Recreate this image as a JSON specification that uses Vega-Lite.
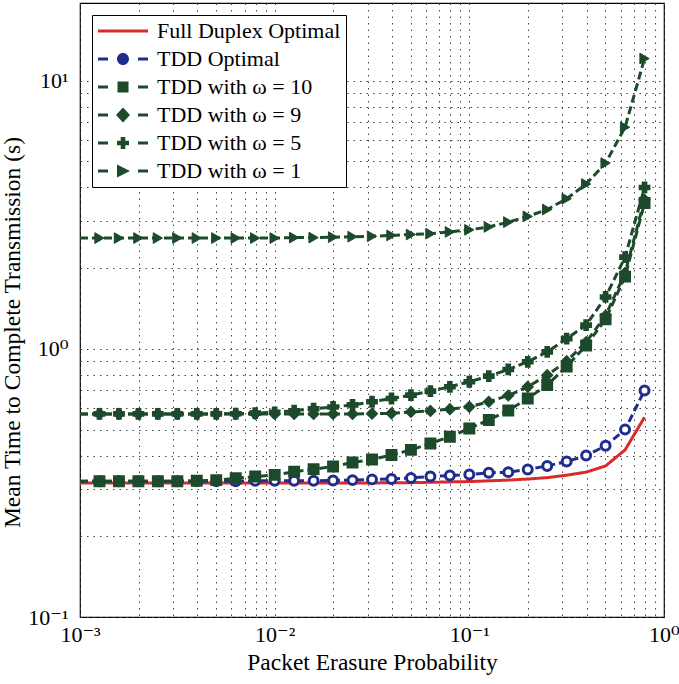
{
  "$schema": "https://vega.github.io/schema/vega-lite/v6.json",
  "width": 584,
  "height": 614,
  "autosize": {"type": "none"},
  "padding": {"left": 80, "top": 3, "right": 15, "bottom": 67},
  "background": "white",
  "config": {
    "view": {"stroke": "black", "strokeWidth": 1.2},
    "font": "Liberation Serif",
    "axis": {
      "labelFont": "Liberation Serif, DejaVu Serif, serif",
      "titleFont": "Liberation Serif",
      "labelFontSize": 22,
      "titleFontSize": 23.5,
      "titleFontWeight": "normal",
      "labelColor": "black",
      "titleColor": "black",
      "grid": true,
      "gridDash": [1.5, 5],
      "gridColor": "#444444",
      "gridWidth": 1,
      "ticks": false,
      "domain": false,
      "labelOverlap": false,
      "labelFlush": false
    }
  },
  "data": {
    "values": [
      {"p": 0.001, "t": 0.316, "s": "Full Duplex Optimal"},
      {"p": 0.0012589, "t": 0.316, "s": "Full Duplex Optimal"},
      {"p": 0.0015849, "t": 0.316, "s": "Full Duplex Optimal"},
      {"p": 0.0019953, "t": 0.316, "s": "Full Duplex Optimal"},
      {"p": 0.0025119, "t": 0.316, "s": "Full Duplex Optimal"},
      {"p": 0.0031623, "t": 0.316, "s": "Full Duplex Optimal"},
      {"p": 0.0039811, "t": 0.316, "s": "Full Duplex Optimal"},
      {"p": 0.0050119, "t": 0.316, "s": "Full Duplex Optimal"},
      {"p": 0.0063096, "t": 0.316, "s": "Full Duplex Optimal"},
      {"p": 0.0079433, "t": 0.316, "s": "Full Duplex Optimal"},
      {"p": 0.01, "t": 0.316, "s": "Full Duplex Optimal"},
      {"p": 0.012589, "t": 0.316, "s": "Full Duplex Optimal"},
      {"p": 0.015849, "t": 0.316, "s": "Full Duplex Optimal"},
      {"p": 0.019953, "t": 0.316, "s": "Full Duplex Optimal"},
      {"p": 0.025119, "t": 0.316, "s": "Full Duplex Optimal"},
      {"p": 0.031623, "t": 0.316, "s": "Full Duplex Optimal"},
      {"p": 0.039811, "t": 0.317, "s": "Full Duplex Optimal"},
      {"p": 0.050119, "t": 0.317, "s": "Full Duplex Optimal"},
      {"p": 0.063096, "t": 0.318, "s": "Full Duplex Optimal"},
      {"p": 0.079433, "t": 0.319, "s": "Full Duplex Optimal"},
      {"p": 0.1, "t": 0.320, "s": "Full Duplex Optimal"},
      {"p": 0.12589, "t": 0.322, "s": "Full Duplex Optimal"},
      {"p": 0.15849, "t": 0.324, "s": "Full Duplex Optimal"},
      {"p": 0.19953, "t": 0.327, "s": "Full Duplex Optimal"},
      {"p": 0.25119, "t": 0.331, "s": "Full Duplex Optimal"},
      {"p": 0.31623, "t": 0.338, "s": "Full Duplex Optimal"},
      {"p": 0.39811, "t": 0.347, "s": "Full Duplex Optimal"},
      {"p": 0.50119, "t": 0.366, "s": "Full Duplex Optimal"},
      {"p": 0.63096, "t": 0.42, "s": "Full Duplex Optimal"},
      {"p": 0.79433, "t": 0.556, "s": "Full Duplex Optimal"},

      {"p": 0.001, "t": 0.321, "s": "TDD Optimal"},
      {"p": 0.0012589, "t": 0.321, "s": "TDD Optimal"},
      {"p": 0.0015849, "t": 0.321, "s": "TDD Optimal"},
      {"p": 0.0019953, "t": 0.321, "s": "TDD Optimal"},
      {"p": 0.0025119, "t": 0.321, "s": "TDD Optimal"},
      {"p": 0.0031623, "t": 0.321, "s": "TDD Optimal"},
      {"p": 0.0039811, "t": 0.321, "s": "TDD Optimal"},
      {"p": 0.0050119, "t": 0.321, "s": "TDD Optimal"},
      {"p": 0.0063096, "t": 0.321, "s": "TDD Optimal"},
      {"p": 0.0079433, "t": 0.322, "s": "TDD Optimal"},
      {"p": 0.01, "t": 0.322, "s": "TDD Optimal"},
      {"p": 0.012589, "t": 0.322, "s": "TDD Optimal"},
      {"p": 0.015849, "t": 0.322, "s": "TDD Optimal"},
      {"p": 0.019953, "t": 0.323, "s": "TDD Optimal"},
      {"p": 0.025119, "t": 0.324, "s": "TDD Optimal"},
      {"p": 0.031623, "t": 0.326, "s": "TDD Optimal"},
      {"p": 0.039811, "t": 0.327, "s": "TDD Optimal"},
      {"p": 0.050119, "t": 0.330, "s": "TDD Optimal"},
      {"p": 0.063096, "t": 0.334, "s": "TDD Optimal"},
      {"p": 0.079433, "t": 0.337, "s": "TDD Optimal"},
      {"p": 0.1, "t": 0.340, "s": "TDD Optimal"},
      {"p": 0.12589, "t": 0.345, "s": "TDD Optimal"},
      {"p": 0.15849, "t": 0.347, "s": "TDD Optimal"},
      {"p": 0.19953, "t": 0.355, "s": "TDD Optimal"},
      {"p": 0.25119, "t": 0.366, "s": "TDD Optimal"},
      {"p": 0.31623, "t": 0.380, "s": "TDD Optimal"},
      {"p": 0.39811, "t": 0.400, "s": "TDD Optimal"},
      {"p": 0.50119, "t": 0.435, "s": "TDD Optimal"},
      {"p": 0.63096, "t": 0.50, "s": "TDD Optimal"},
      {"p": 0.79433, "t": 0.70, "s": "TDD Optimal"},

      {"p": 0.001, "t": 0.321, "s": "TDD with ω = 10"},
      {"p": 0.0012589, "t": 0.321, "s": "TDD with ω = 10"},
      {"p": 0.0015849, "t": 0.321, "s": "TDD with ω = 10"},
      {"p": 0.0019953, "t": 0.321, "s": "TDD with ω = 10"},
      {"p": 0.0025119, "t": 0.321, "s": "TDD with ω = 10"},
      {"p": 0.0031623, "t": 0.321, "s": "TDD with ω = 10"},
      {"p": 0.0039811, "t": 0.322, "s": "TDD with ω = 10"},
      {"p": 0.0050119, "t": 0.324, "s": "TDD with ω = 10"},
      {"p": 0.0063096, "t": 0.329, "s": "TDD with ω = 10"},
      {"p": 0.0079433, "t": 0.334, "s": "TDD with ω = 10"},
      {"p": 0.01, "t": 0.339, "s": "TDD with ω = 10"},
      {"p": 0.012589, "t": 0.348, "s": "TDD with ω = 10"},
      {"p": 0.015849, "t": 0.356, "s": "TDD with ω = 10"},
      {"p": 0.019953, "t": 0.364, "s": "TDD with ω = 10"},
      {"p": 0.025119, "t": 0.377, "s": "TDD with ω = 10"},
      {"p": 0.031623, "t": 0.387, "s": "TDD with ω = 10"},
      {"p": 0.039811, "t": 0.402, "s": "TDD with ω = 10"},
      {"p": 0.050119, "t": 0.420, "s": "TDD with ω = 10"},
      {"p": 0.063096, "t": 0.444, "s": "TDD with ω = 10"},
      {"p": 0.079433, "t": 0.470, "s": "TDD with ω = 10"},
      {"p": 0.1, "t": 0.505, "s": "TDD with ω = 10"},
      {"p": 0.12589, "t": 0.543, "s": "TDD with ω = 10"},
      {"p": 0.15849, "t": 0.589, "s": "TDD with ω = 10"},
      {"p": 0.19953, "t": 0.653, "s": "TDD with ω = 10"},
      {"p": 0.25119, "t": 0.733, "s": "TDD with ω = 10"},
      {"p": 0.31623, "t": 0.86, "s": "TDD with ω = 10"},
      {"p": 0.39811, "t": 1.03, "s": "TDD with ω = 10"},
      {"p": 0.50119, "t": 1.29, "s": "TDD with ω = 10"},
      {"p": 0.63096, "t": 1.86, "s": "TDD with ω = 10"},
      {"p": 0.79433, "t": 3.5, "s": "TDD with ω = 10"},

      {"p": 0.001, "t": 0.572, "s": "TDD with ω = 9"},
      {"p": 0.0012589, "t": 0.572, "s": "TDD with ω = 9"},
      {"p": 0.0015849, "t": 0.572, "s": "TDD with ω = 9"},
      {"p": 0.0019953, "t": 0.572, "s": "TDD with ω = 9"},
      {"p": 0.0025119, "t": 0.572, "s": "TDD with ω = 9"},
      {"p": 0.0031623, "t": 0.572, "s": "TDD with ω = 9"},
      {"p": 0.0039811, "t": 0.572, "s": "TDD with ω = 9"},
      {"p": 0.0050119, "t": 0.572, "s": "TDD with ω = 9"},
      {"p": 0.0063096, "t": 0.572, "s": "TDD with ω = 9"},
      {"p": 0.0079433, "t": 0.572, "s": "TDD with ω = 9"},
      {"p": 0.01, "t": 0.572, "s": "TDD with ω = 9"},
      {"p": 0.012589, "t": 0.572, "s": "TDD with ω = 9"},
      {"p": 0.015849, "t": 0.572, "s": "TDD with ω = 9"},
      {"p": 0.019953, "t": 0.572, "s": "TDD with ω = 9"},
      {"p": 0.025119, "t": 0.572, "s": "TDD with ω = 9"},
      {"p": 0.031623, "t": 0.573, "s": "TDD with ω = 9"},
      {"p": 0.039811, "t": 0.575, "s": "TDD with ω = 9"},
      {"p": 0.050119, "t": 0.582, "s": "TDD with ω = 9"},
      {"p": 0.063096, "t": 0.587, "s": "TDD with ω = 9"},
      {"p": 0.079433, "t": 0.596, "s": "TDD with ω = 9"},
      {"p": 0.1, "t": 0.608, "s": "TDD with ω = 9"},
      {"p": 0.12589, "t": 0.635, "s": "TDD with ω = 9"},
      {"p": 0.15849, "t": 0.670, "s": "TDD with ω = 9"},
      {"p": 0.19953, "t": 0.722, "s": "TDD with ω = 9"},
      {"p": 0.25119, "t": 0.798, "s": "TDD with ω = 9"},
      {"p": 0.31623, "t": 0.90, "s": "TDD with ω = 9"},
      {"p": 0.39811, "t": 1.06, "s": "TDD with ω = 9"},
      {"p": 0.50119, "t": 1.33, "s": "TDD with ω = 9"},
      {"p": 0.63096, "t": 1.92, "s": "TDD with ω = 9"},
      {"p": 0.79433, "t": 3.6, "s": "TDD with ω = 9"},

      {"p": 0.001, "t": 0.572, "s": "TDD with ω = 5"},
      {"p": 0.0012589, "t": 0.572, "s": "TDD with ω = 5"},
      {"p": 0.0015849, "t": 0.572, "s": "TDD with ω = 5"},
      {"p": 0.0019953, "t": 0.572, "s": "TDD with ω = 5"},
      {"p": 0.0025119, "t": 0.572, "s": "TDD with ω = 5"},
      {"p": 0.0031623, "t": 0.572, "s": "TDD with ω = 5"},
      {"p": 0.0039811, "t": 0.572, "s": "TDD with ω = 5"},
      {"p": 0.0050119, "t": 0.572, "s": "TDD with ω = 5"},
      {"p": 0.0063096, "t": 0.573, "s": "TDD with ω = 5"},
      {"p": 0.0079433, "t": 0.576, "s": "TDD with ω = 5"},
      {"p": 0.01, "t": 0.580, "s": "TDD with ω = 5"},
      {"p": 0.012589, "t": 0.588, "s": "TDD with ω = 5"},
      {"p": 0.015849, "t": 0.598, "s": "TDD with ω = 5"},
      {"p": 0.019953, "t": 0.607, "s": "TDD with ω = 5"},
      {"p": 0.025119, "t": 0.618, "s": "TDD with ω = 5"},
      {"p": 0.031623, "t": 0.635, "s": "TDD with ω = 5"},
      {"p": 0.039811, "t": 0.653, "s": "TDD with ω = 5"},
      {"p": 0.050119, "t": 0.672, "s": "TDD with ω = 5"},
      {"p": 0.063096, "t": 0.696, "s": "TDD with ω = 5"},
      {"p": 0.079433, "t": 0.722, "s": "TDD with ω = 5"},
      {"p": 0.1, "t": 0.754, "s": "TDD with ω = 5"},
      {"p": 0.12589, "t": 0.791, "s": "TDD with ω = 5"},
      {"p": 0.15849, "t": 0.838, "s": "TDD with ω = 5"},
      {"p": 0.19953, "t": 0.895, "s": "TDD with ω = 5"},
      {"p": 0.25119, "t": 0.975, "s": "TDD with ω = 5"},
      {"p": 0.31623, "t": 1.092, "s": "TDD with ω = 5"},
      {"p": 0.39811, "t": 1.226, "s": "TDD with ω = 5"},
      {"p": 0.50119, "t": 1.562, "s": "TDD with ω = 5"},
      {"p": 0.63096, "t": 2.2, "s": "TDD with ω = 5"},
      {"p": 0.79433, "t": 4.0, "s": "TDD with ω = 5"},

      {"p": 0.001, "t": 2.59, "s": "TDD with ω = 1"},
      {"p": 0.0012589, "t": 2.59, "s": "TDD with ω = 1"},
      {"p": 0.0015849, "t": 2.59, "s": "TDD with ω = 1"},
      {"p": 0.0019953, "t": 2.59, "s": "TDD with ω = 1"},
      {"p": 0.0025119, "t": 2.59, "s": "TDD with ω = 1"},
      {"p": 0.0031623, "t": 2.59, "s": "TDD with ω = 1"},
      {"p": 0.0039811, "t": 2.59, "s": "TDD with ω = 1"},
      {"p": 0.0050119, "t": 2.59, "s": "TDD with ω = 1"},
      {"p": 0.0063096, "t": 2.59, "s": "TDD with ω = 1"},
      {"p": 0.0079433, "t": 2.59, "s": "TDD with ω = 1"},
      {"p": 0.01, "t": 2.59, "s": "TDD with ω = 1"},
      {"p": 0.012589, "t": 2.60, "s": "TDD with ω = 1"},
      {"p": 0.015849, "t": 2.60, "s": "TDD with ω = 1"},
      {"p": 0.019953, "t": 2.61, "s": "TDD with ω = 1"},
      {"p": 0.025119, "t": 2.62, "s": "TDD with ω = 1"},
      {"p": 0.031623, "t": 2.63, "s": "TDD with ω = 1"},
      {"p": 0.039811, "t": 2.65, "s": "TDD with ω = 1"},
      {"p": 0.050119, "t": 2.67, "s": "TDD with ω = 1"},
      {"p": 0.063096, "t": 2.69, "s": "TDD with ω = 1"},
      {"p": 0.079433, "t": 2.73, "s": "TDD with ω = 1"},
      {"p": 0.1, "t": 2.78, "s": "TDD with ω = 1"},
      {"p": 0.12589, "t": 2.85, "s": "TDD with ω = 1"},
      {"p": 0.15849, "t": 2.97, "s": "TDD with ω = 1"},
      {"p": 0.19953, "t": 3.12, "s": "TDD with ω = 1"},
      {"p": 0.25119, "t": 3.31, "s": "TDD with ω = 1"},
      {"p": 0.31623, "t": 3.63, "s": "TDD with ω = 1"},
      {"p": 0.39811, "t": 4.12, "s": "TDD with ω = 1"},
      {"p": 0.50119, "t": 4.93, "s": "TDD with ω = 1"},
      {"p": 0.63096, "t": 6.71, "s": "TDD with ω = 1"},
      {"p": 0.79433, "t": 12.1, "s": "TDD with ω = 1"}
    ]
  },
  "encoding": {
    "x": {
      "field": "p",
      "type": "quantitative",
      "scale": {"type": "log", "domain": [0.001, 1], "nice": false},
      "axis": {
        "title": "Packet Erasure Probability",
        "values": [0.001, 0.002, 0.003, 0.004, 0.005, 0.006, 0.007, 0.008, 0.009, 0.01, 0.02, 0.03, 0.04, 0.05, 0.06, 0.07, 0.08, 0.09, 0.1, 0.2, 0.3, 0.4, 0.5, 0.6, 0.7, 0.8, 0.9, 1],
        "labelExpr": "datum.value == 0.001 ? '10⁻³' : datum.value == 0.01 ? '10⁻²' : datum.value == 0.1 ? '10⁻¹' : datum.value == 1 ? '10⁰' : ''",
        "labelPadding": 7,
        "titlePadding": 5
      }
    },
    "y": {
      "field": "t",
      "type": "quantitative",
      "scale": {"type": "log", "domain": [0.1, 19.5], "nice": false},
      "axis": {
        "title": "Mean Time to Complete Transmission (s)",
        "values": [0.1, 0.2, 0.3, 0.4, 0.5, 0.6, 0.7, 0.8, 0.9, 1, 2, 3, 4, 5, 6, 7, 8, 9, 10],
        "labelExpr": "datum.value == 0.1 ? '10⁻¹' : datum.value == 1 ? '10⁰' : datum.value == 10 ? '10¹' : ''",
        "labelPadding": 12,
        "titlePadding": 3,
        "titleY": 329
      }
    }
  },
  "layer": [
    {
      "mark": {"type": "line", "strokeWidth": 3, "clip": true},
      "encoding": {
        "color": {
          "field": "s",
          "type": "nominal",
          "scale": {
            "domain": ["Full Duplex Optimal", "TDD Optimal", "TDD with ω = 10", "TDD with ω = 9", "TDD with ω = 5", "TDD with ω = 1"],
            "range": ["#d92b2b", "#1f2d8f", "#1e4a2c", "#1e4a2c", "#1e4a2c", "#1e4a2c"]
          },
          "legend": {
            "title": null,
            "orient": "top-left",
            "offset": 12,
            "strokeColor": "black",
            "fillColor": "white",
            "padding": 5,
            "labelFont": "Liberation Serif",
            "labelFontSize": 22,
            "labelColor": "black",
            "labelLimit": 400,
            "symbolSize": 400,
            "labelOffset": 38,
            "rowPadding": 6,
            "encode": {
              "symbols": {
                "update": {
                  "shape": {"signal": "datum.value === 'Full Duplex Optimal' ? 'M-1,-0.15H4V0.15H-1Z' : datum.value === 'TDD Optimal' ? 'M-1,-0.15H0V0.15H-1Z M3,-0.15H4V0.15H3Z M2.1,0A0.6,0.6 0 1,1 0.9,0A0.6,0.6 0 1,1 2.1,0Z' : datum.value === 'TDD with ω = 10' ? 'M-1,-0.15H0V0.15H-1Z M3,-0.15H4V0.15H3Z M0.95,-0.55H2.05V0.55H0.95Z' : datum.value === 'TDD with ω = 9' ? 'M-1,-0.15H0V0.15H-1Z M3,-0.15H4V0.15H3Z M1.5,-0.75L2.2,0L1.5,0.75L0.8,0Z' : datum.value === 'TDD with ω = 5' ? 'M-1,-0.15H0V0.15H-1Z M3,-0.15H4V0.15H3Z M1.27,-0.6H1.73V-0.23H2.1V0.23H1.73V0.6H1.27V0.23H0.9V-0.23H1.27Z' : 'M-1,-0.15H0V0.15H-1Z M3,-0.15H4V0.15H3Z M0.9,-0.65L2.2,0L0.9,0.65Z'"},
                  "fill": {"signal": "scale('color', datum.value)"},
                  "fillOpacity": {"value": 1},
                  "opacity": {"value": 1},
                  "stroke": {"value": "transparent"},
                  "strokeWidth": {"value": 0}
                }
              }
            }
          }
        },
        "strokeDash": {
          "field": "s",
          "type": "nominal",
          "scale": {
            "domain": ["Full Duplex Optimal", "TDD Optimal", "TDD with ω = 10", "TDD with ω = 9", "TDD with ω = 5", "TDD with ω = 1"],
            "range": [[1, 0], [8, 4], [8, 4], [8, 4], [8, 4], [8, 4]]
          },
          "legend": null
        }
      }
    },
    {
      "transform": [{"filter": "datum.p > 0.0011 && datum.s !== 'Full Duplex Optimal'"}],
      "mark": {"type": "point", "opacity": 1, "clip": true},
      "encoding": {
        "shape": {
          "field": "s",
          "type": "nominal",
          "scale": {
            "domain": ["TDD Optimal", "TDD with ω = 10", "TDD with ω = 9", "TDD with ω = 5", "TDD with ω = 1"],
            "range": ["circle", "square", "diamond", "cross", "triangle-right"]
          },
          "legend": null
        },
        "fill": {
          "field": "s",
          "type": "nominal",
          "scale": {
            "domain": ["TDD Optimal", "TDD with ω = 10", "TDD with ω = 9", "TDD with ω = 5", "TDD with ω = 1"],
            "range": ["#ffffff", "#1e4a2c", "#1e4a2c", "#1e4a2c", "#1e4a2c"]
          },
          "legend": null
        },
        "stroke": {
          "field": "s",
          "type": "nominal",
          "scale": {
            "domain": ["TDD Optimal", "TDD with ω = 10", "TDD with ω = 9", "TDD with ω = 5", "TDD with ω = 1"],
            "range": ["#1f2d8f", "#1e4a2c", "#1e4a2c", "#1e4a2c", "#1e4a2c"]
          },
          "legend": null
        },
        "size": {
          "field": "s",
          "type": "nominal",
          "scale": {
            "domain": ["TDD Optimal", "TDD with ω = 10", "TDD with ω = 9", "TDD with ω = 5", "TDD with ω = 1"],
            "range": [80, 115, 240, 190, 230]
          },
          "legend": null
        },
        "strokeWidth": {
          "field": "s",
          "type": "nominal",
          "scale": {
            "domain": ["TDD Optimal", "TDD with ω = 10", "TDD with ω = 9", "TDD with ω = 5", "TDD with ω = 1"],
            "range": [3, 1, 1, 1, 1]
          },
          "legend": null
        }
      }
    }
  ]
}
